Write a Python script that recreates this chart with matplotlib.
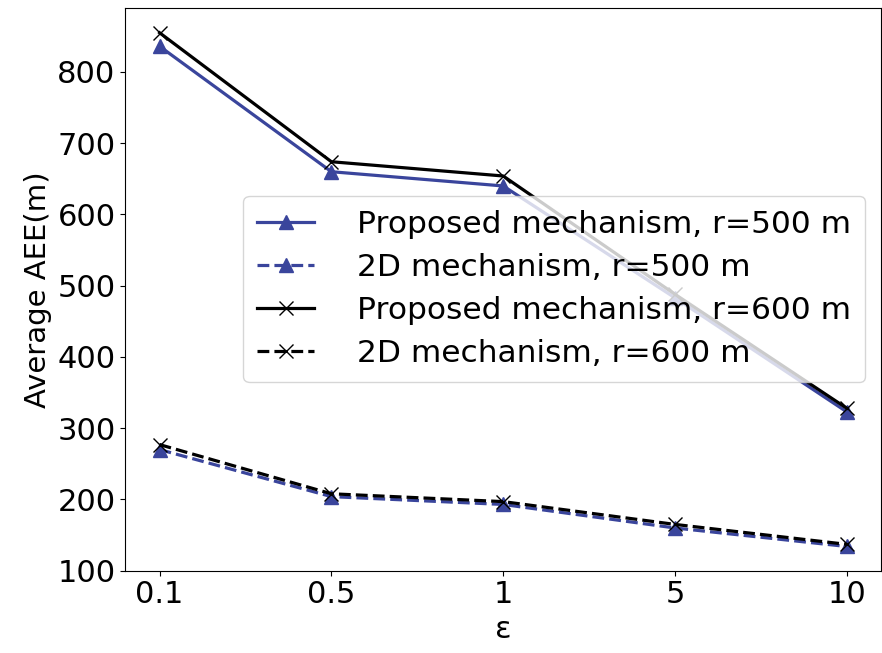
import matplotlib
matplotlib.use("Agg")
from matplotlib import pyplot as plt

eps_labels = ["0.1", "0.5", "1", "5", "10"]

proposed_500 = [836, 660, 640, 483, 323]
twod_500 = [270, 204, 193, 160, 134]
proposed_600 = [855, 674, 654, 488, 328]
twod_600 = [277, 208, 197, 165, 137]

BLEU = "#3a459c"

fig = plt.figure(figsize=(8.82, 6.53), dpi=100)
ax = fig.add_axes([0.142, 0.126, 0.857, 0.862])

x = range(len(eps_labels))
ax.plot(x, proposed_500, color=BLEU, marker="^", markersize=10, linewidth=2.3,
        label="Proposed mechanism, r=500 m")
ax.plot(x, twod_500, color=BLEU, marker="^", markersize=10, linewidth=2.3,
        linestyle="--", label="2D mechanism, r=500 m")
ax.plot(x, proposed_600, color="black", marker="x", markersize=10, linewidth=2.3,
        label="Proposed mechanism, r=600 m")
ax.plot(x, twod_600, color="black", marker="x", markersize=10, linewidth=2.3,
        linestyle="--", label="2D mechanism, r=600 m")

ax.set_xticks(list(x))
ax.set_xticklabels(eps_labels)
ax.set_ylim(100, 890)
ax.set_yticks(range(100, 900, 100))
ax.tick_params(labelsize=22)
ax.set_xlabel("ε", fontsize=22)
ax.set_ylabel("Average AEE(m)", fontsize=21)
ax.legend(loc="center right", fontsize=22.5, handlelength=1.8,
          handletextpad=1.4, borderpad=0.45, labelspacing=0.45)

fig.savefig("out.png")
